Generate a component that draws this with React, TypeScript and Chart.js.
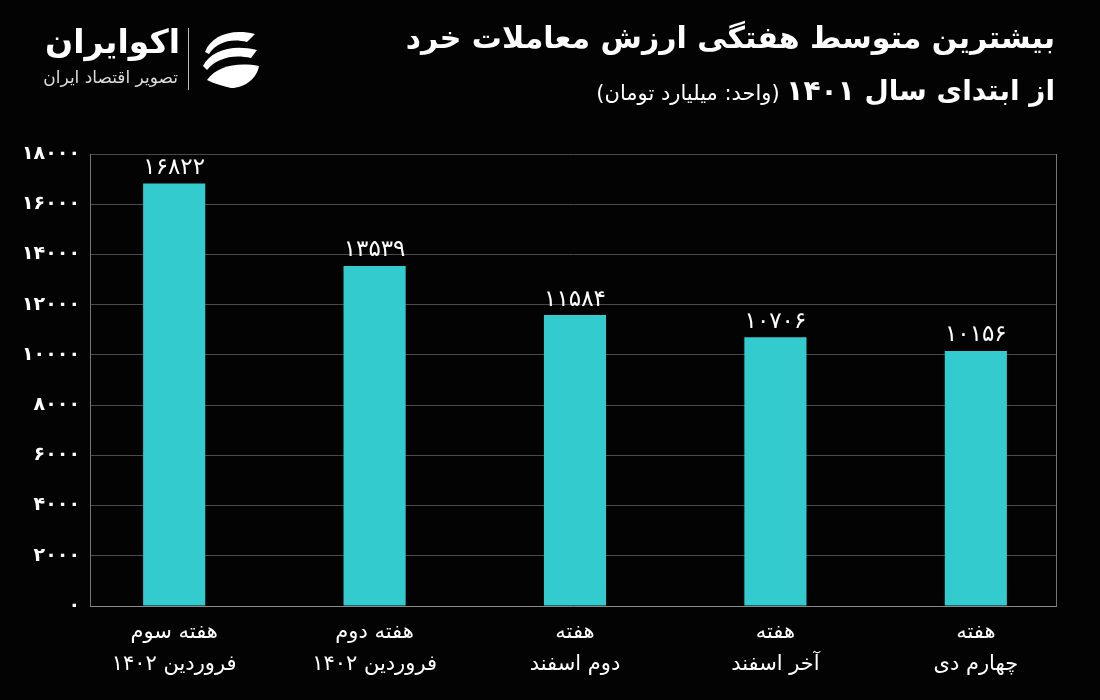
import React, { useEffect, useRef } from "react";
import { Chart, registerables } from "chart.js";

Chart.register(...registerables);

const categories: string[][] = [
  ["هفته سوم", "فروردین ۱۴۰۲"],
  ["هفته دوم", "فروردین ۱۴۰۲"],
  ["هفته", "دوم اسفند"],
  ["هفته", "آخر اسفند"],
  ["هفته", "چهارم دی"],
];
const values: number[] = [16822, 13539, 11584, 10706, 10156];
const yMax = 18000;
const yStep = 2000;

const titleLine1 = "بیشترین متوسط هفتگی ارزش معاملات خرد";
const titleLine2 = "از ابتدای سال ۱۴۰۱";
const titleUnit = "(واحد: میلیارد تومان)";
const brandName = "اکوایران";
const brandTag = "تصویر اقتصاد ایران";

const toFa = (n: number | string) =>
  String(n).replace(/[0-9]/g, (d) => "۰۱۲۳۴۵۶۷۸۹"[+d]);

const FONT = "'DejaVu Sans', 'Noto Sans', sans-serif";

const labelPlugin = {
  id: "barLabels",
  afterDatasetsDraw(chart: any) {
    const ctx = chart.ctx;
    const meta = chart.getDatasetMeta(0);
    ctx.save();
    ctx.fillStyle = "#ffffff";
    ctx.font = `23px ${FONT}`;
    ctx.textAlign = "center";
    ctx.textBaseline = "bottom";
    meta.data.forEach((el: any, i: number) => {
      ctx.fillText(toFa(values[i]), el.x, el.y - 4);
    });
    ctx.restore();
  },
};

export default function App() {
  const ref = useRef<HTMLCanvasElement | null>(null);
  useEffect(() => {
    document.body.style.margin = "0";
    document.body.style.background = "#030303";
    const chart = new Chart(ref.current!, {
      type: "bar",
      data: {
        datasets: [
          {
            data: values.map((v, i) => ({ x: i, y: v })),
            backgroundColor: "#34cbce",
            barPercentage: 0.31,
            categoryPercentage: 1,
          },
        ],
      },
      options: {
        animation: false,
        responsive: true,
        maintainAspectRatio: false,
        layout: { padding: { top: 154, right: 44, left: 0, bottom: 0 } },
        plugins: { legend: { display: false }, tooltip: { enabled: false } },
        scales: {
          x: {
            type: "linear",
            min: -0.42,
            max: 4.4,
            offset: false,
            afterBuildTicks: (axis: any) => {
              axis.ticks = categories.map((_, i) => ({ value: i }));
            },
            afterFit: (s: any) => {
              s.height = 94;
            },
            grid: { drawOnChartArea: false, drawTicks: false, offset: false },
            border: { display: true, color: "#8a8a8a", width: 1 },
            ticks: {
              autoSkip: false,
              maxRotation: 0,
              padding: 10,
              color: "#ffffff",
              font: { family: FONT, size: 21, lineHeight: 1.55 },
              callback: (_v: any, i: number) => categories[i],
            },
          },
          y: {
            min: 0,
            max: yMax,
            afterFit: (s: any) => {
              s.width = 90;
            },
            grid: { color: "#4a4a4a", lineWidth: 1, drawTicks: false },
            border: { display: true, color: "#777777", width: 1 },
            ticks: {
              stepSize: yStep,
              padding: 10,
              color: "#ffffff",
              font: { family: FONT, size: 19, weight: "bold" },
              callback: (v: any) => toFa(v),
            },
          },
          y2: {
            position: "right",
            min: 0,
            max: yMax,
            afterFit: (s: any) => {
              s.width = 0;
            },
            grid: { drawOnChartArea: false, drawTicks: false },
            border: { display: true, color: "#777777", width: 1 },
            ticks: { display: false },
          },
        },
      },
      plugins: [labelPlugin],
    } as any);
    return () => chart.destroy();
  }, []);

  return (
    <div
      style={{
        position: "relative",
        width: 1100,
        height: 700,
        background: "#030303",
        overflow: "hidden",
        fontFamily: FONT,
      }}
    >
      <canvas ref={ref} style={{ position: "absolute", left: 0, top: 0 }} />
      <div
        dir="rtl"
        style={{
          position: "absolute",
          right: 45,
          top: 20,
          color: "#fff",
          fontWeight: "bold",
          fontSize: 30,
          whiteSpace: "nowrap",
        }}
      >
        {titleLine1}
      </div>
      <div
        dir="rtl"
        style={{
          position: "absolute",
          right: 45,
          top: 74,
          color: "#fff",
          whiteSpace: "nowrap",
        }}
      >
        <span style={{ fontWeight: "bold", fontSize: 28 }}>{titleLine2}</span>
        <span style={{ fontSize: 21 }}> {titleUnit}</span>
      </div>
      <div
        dir="rtl"
        style={{
          position: "absolute",
          right: 920,
          top: 22,
          color: "#fff",
          fontWeight: "bold",
          fontSize: 33,
          whiteSpace: "nowrap",
        }}
      >
        {brandName}
      </div>
      <div
        dir="rtl"
        style={{
          position: "absolute",
          right: 922,
          top: 67,
          color: "#ddd",
          fontSize: 17,
          whiteSpace: "nowrap",
        }}
      >
        {brandTag}
      </div>
      <div
        style={{
          position: "absolute",
          left: 188,
          top: 28,
          width: 1,
          height: 62,
          background: "#bbb",
        }}
      />
      <svg
        width="66"
        height="66"
        viewBox="0 0 66 66"
        style={{ position: "absolute", left: 197, top: 26 }}
      >
        <g fill="#fff">
          <path d="M8 26 C14 10 34 2 58 8 L50 16 C34 12 20 16 12 28 Z" />
          <path d="M6 40 C14 24 36 18 60 24 L54 32 C36 28 20 32 10 44 Z" />
          <path d="M10 54 C20 40 40 36 62 40 C60 52 48 62 34 62 C26 60 18 58 10 54 Z" />
        </g>
      </svg>
    </div>
  );
}
